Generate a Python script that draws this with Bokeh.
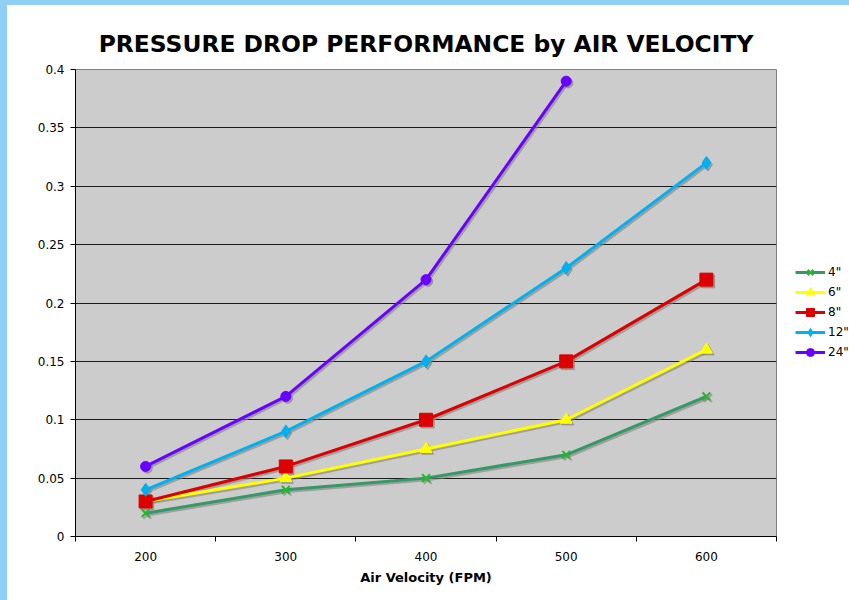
from bokeh.plotting import figure
from bokeh.models import ColumnDataSource, FixedTicker, Legend
from bokeh.transform import dodge
from bokeh.embed import file_html
from bokeh.resources import INLINE

# ---- data ----
velocity = [200, 300, 400, 500, 600]
series_names = ['4"', '6"', '8"', '12"', '24"']
p4 = [0.02, 0.04, 0.05, 0.07, 0.12]
p6 = [0.03, 0.05, 0.075, 0.10, 0.16]
p8 = [0.03, 0.06, 0.10, 0.15, 0.22]
p12 = [0.04, 0.09, 0.15, 0.23, 0.32]
p24 = [0.06, 0.12, 0.22, 0.39]
y_ticks = [0, 0.05, 0.1, 0.15, 0.2, 0.25, 0.3, 0.35, 0.4]
y_tick_labels = ["0", "0.05", "0.1", "0.15", "0.2", "0.25", "0.3", "0.35", "0.4"]
x_bounds = [150, 250, 350, 450, 550, 650]

FONT = "DejaVu Sans"
BLUE = "#8fcff4"

p = figure(width=842, height=595, frame_width=701, frame_height=467,
           output_backend="svg", toolbar_location=None,
           x_range=(150, 650), y_range=(0, 0.4),
           min_border_left=68, min_border_right=73, min_border_top=64, min_border_bottom=64)
p.styles = {"border-left": f"7px solid {BLUE}", "border-top": f"5px solid {BLUE}"}
p.title.text = "PRESSURE DROP PERFORMANCE by AIR VELOCITY"
p.title.align = "center"
p.title.text_font = FONT
p.title.text_font_size = "23.4px"
p.title.text_font_style = "bold"
p.title.text_color = "black"
p.title.standoff = 24

p.background_fill_color = "#cccccc"
p.border_fill_color = "white"
p.outline_line_color = "#808080"
p.outline_line_width = 1

# axes
p.xaxis.ticker = FixedTicker(ticks=velocity, minor_ticks=x_bounds)
p.xaxis.major_tick_line_color = None
p.xaxis.major_tick_out = 0
p.xaxis.major_tick_in = 0
p.xaxis.minor_tick_out = 5
p.xaxis.minor_tick_in = 0
p.xaxis.minor_tick_line_color = "black"
p.xaxis.major_label_standoff = 10
p.xaxis.axis_label = "Air Velocity (FPM)"
p.xaxis.axis_label_text_font = FONT
p.xaxis.axis_label_text_font_style = "bold"
p.xaxis.axis_label_text_font_size = "13px"
p.xaxis.axis_label_text_color = "black"
p.xaxis.axis_label_standoff = 6

p.yaxis.ticker = FixedTicker(ticks=y_ticks, minor_ticks=[])
p.yaxis.major_label_overrides = {t: s for t, s in zip(y_ticks, y_tick_labels)}
p.yaxis.major_tick_out = 5
p.yaxis.major_tick_in = 0
p.yaxis.major_label_standoff = 6

for ax in (p.xaxis, p.yaxis):
    ax.axis_line_color = "black"
    ax.major_label_text_font = FONT
    ax.major_label_text_font_size = "12px"
    ax.major_label_text_color = "black"

p.xgrid.grid_line_color = None
p.ygrid.grid_line_color = "#1a1a1a"
p.ygrid.grid_line_width = 1

styles = [
    dict(y=p4, line="#339966", marker="x", mcolor="#22bb22", size=11),
    dict(y=p6, line="#ffff00", marker="triangle", mcolor="#ffff00", size=12),
    dict(y=p8, line="#dd0000", marker="square", mcolor="#dd0000", size=13),
    dict(y=p12, line="#00b0f0", marker="diamond", mcolor="#00b0f0", size=13),
    dict(y=p24, line="#6a00ff", marker="circle", mcolor="#6a00ff", size=10),
]

items = []
sources = []
for name, st in zip(series_names, styles):
    src = ColumnDataSource(dict(x=velocity[:len(st["y"])], y=st["y"]))
    sources.append((name, st, src))

# drop shadows
for name, st, src in sources:
    p.line(x=dodge("x", 1.2), y=dodge("y", -0.0015), source=src,
           line_color="#808080", line_width=3, line_alpha=0.6)
    p.scatter(x=dodge("x", 1.2), y=dodge("y", -0.0015), source=src, marker=st["marker"],
              size=st["size"], line_color="#808080", fill_color="#808080",
              line_width=2 if st["marker"] == "x" else 1, alpha=0.6)

for name, st, src in sources:
    l = p.line(x="x", y="y", source=src, line_color=st["line"], line_width=3)
    m = p.scatter(x="x", y="y", source=src, marker=st["marker"], size=st["size"],
                  line_color=st["mcolor"], fill_color=st["mcolor"],
                  line_width=2 if st["marker"] == "x" else 1)
    items.append((name, [l, m]))

legend = Legend(items=items, location=(19, 174), padding=0, margin=0, spacing=0,
                glyph_width=30, glyph_height=20, label_height=20, label_standoff=3,
                label_text_font=FONT, label_text_font_size="12px",
                label_text_color="black",
                border_line_color=None, background_fill_alpha=0)
p.add_layout(legend, "right")

open("out.html", "w").write(file_html(p, INLINE))
